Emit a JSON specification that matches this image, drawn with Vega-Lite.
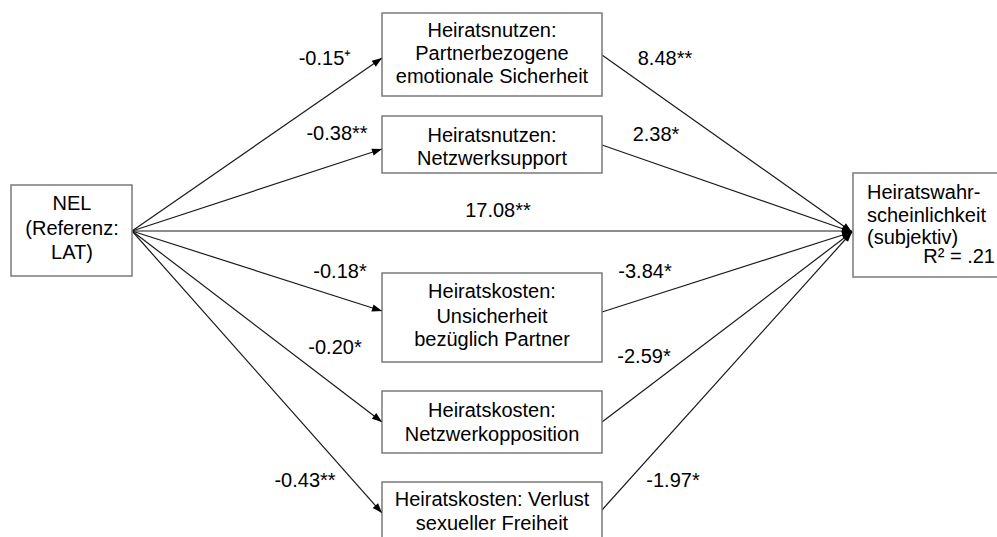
{
  "$schema": "https://vega.github.io/schema/vega-lite/v6.json",
  "autosize": {"type": "fit", "contains": "padding"},
  "width": 997,
  "height": 537,
  "padding": 0,
  "background": "white",
  "config": {"view": {"stroke": null}, "text": {"font": "Liberation Sans", "fontSize": 20, "color": "#000000"}},
  "datasets": {
    "boxes": [
      {"id": "NEL", "x1": 11, "x2": 132, "y1": 185, "y2": 276},
      {"id": "B1", "x1": 382, "x2": 602, "y1": 13, "y2": 96},
      {"id": "B2", "x1": 382, "x2": 602, "y1": 116, "y2": 173},
      {"id": "B3", "x1": 382, "x2": 602, "y1": 273, "y2": 362},
      {"id": "B4", "x1": 382, "x2": 602, "y1": 391, "y2": 453},
      {"id": "B5", "x1": 382, "x2": 602, "y1": 482, "y2": 545},
      {"id": "T", "x1": 853, "x2": 1005, "y1": 173, "y2": 277}
    ],
    "edges": [
      {"from": "NEL", "to": "B1", "x1": 132, "y1": 231, "x2": 382, "y2": 58},
      {"from": "NEL", "to": "B2", "x1": 132, "y1": 231, "x2": 382, "y2": 149},
      {"from": "NEL", "to": "T", "x1": 132, "y1": 231, "x2": 852, "y2": 231},
      {"from": "NEL", "to": "B3", "x1": 132, "y1": 231, "x2": 382, "y2": 311},
      {"from": "NEL", "to": "B4", "x1": 132, "y1": 231, "x2": 382, "y2": 422},
      {"from": "NEL", "to": "B5", "x1": 132, "y1": 231, "x2": 382, "y2": 513},
      {"from": "B1", "to": "T", "x1": 602, "y1": 55, "x2": 852, "y2": 232},
      {"from": "B2", "to": "T", "x1": 602, "y1": 145, "x2": 852, "y2": 232},
      {"from": "B3", "to": "T", "x1": 602, "y1": 312, "x2": 852, "y2": 232},
      {"from": "B4", "to": "T", "x1": 602, "y1": 422, "x2": 852, "y2": 232},
      {"from": "B5", "to": "T", "x1": 602, "y1": 510, "x2": 852, "y2": 232}
    ],
    "boxtext": [
      {"x": 72, "y": 210, "t": "NEL"},
      {"x": 72, "y": 235, "t": "(Referenz:"},
      {"x": 72, "y": 259, "t": "LAT)"},
      {"x": 492, "y": 37, "t": "Heiratsnutzen:"},
      {"x": 492, "y": 60, "t": "Partnerbezogene"},
      {"x": 492, "y": 83, "t": "emotionale Sicherheit"},
      {"x": 492, "y": 142, "t": "Heiratsnutzen:"},
      {"x": 492, "y": 165, "t": "Netzwerksupport"},
      {"x": 492, "y": 298, "t": "Heiratskosten:"},
      {"x": 492, "y": 323, "t": "Unsicherheit"},
      {"x": 492, "y": 346, "t": "bezüglich Partner"},
      {"x": 492, "y": 417, "t": "Heiratskosten:"},
      {"x": 492, "y": 441, "t": "Netzwerkopposition"},
      {"x": 492, "y": 506, "t": "Heiratskosten: Verlust"},
      {"x": 492, "y": 530, "t": "sexueller Freiheit"}
    ],
    "targettext": [
      {"x": 867, "y": 199, "t": "Heiratswahr-"},
      {"x": 867, "y": 222, "t": "scheinlichkeit"},
      {"x": 867, "y": 244, "t": "(subjektiv)"}
    ],
    "r2": [
      {"x": 995, "y": 263, "t": "R² = .21"}
    ],
    "labels": [
      {"x": 325, "y": 65, "t": "-0.15⁺"},
      {"x": 337, "y": 140, "t": "-0.38**"},
      {"x": 498, "y": 217, "t": "17.08**"},
      {"x": 340, "y": 278, "t": "-0.18*"},
      {"x": 335, "y": 354, "t": "-0.20*"},
      {"x": 305, "y": 487, "t": "-0.43**"},
      {"x": 665, "y": 65, "t": "8.48**"},
      {"x": 656, "y": 141, "t": "2.38*"},
      {"x": 645, "y": 278, "t": "-3.84*"},
      {"x": 644, "y": 363, "t": "-2.59*"},
      {"x": 673, "y": 487, "t": "-1.97*"}
    ]
  },
  "layer": [
    {
      "data": {"name": "edges"},
      "mark": {"type": "rule", "color": "#1a1a1a", "strokeWidth": 1.2},
      "encoding": {
        "x": {"field": "x1", "type": "quantitative", "scale": {"domain": [0, 997], "nice": false, "zero": false}, "axis": null},
        "y": {"field": "y1", "type": "quantitative", "scale": {"domain": [0, 537], "nice": false, "zero": false, "reverse": true}, "axis": null},
        "x2": {"field": "x2"},
        "y2": {"field": "y2"}
      }
    },
    {
      "data": {"name": "boxes"},
      "mark": {"type": "rect", "fill": "white", "stroke": "#7a7a7a", "strokeWidth": 1.5, "clip": true},
      "encoding": {
        "x": {"field": "x1", "type": "quantitative"},
        "x2": {"field": "x2"},
        "y": {"field": "y1", "type": "quantitative"},
        "y2": {"field": "y2"}
      }
    },
    {
      "data": {"name": "edges"},
      "transform": [
        {"calculate": "atan2(datum.x2 - datum.x1, datum.y1 - datum.y2) * 180 / PI", "as": "ang"}
      ],
      "mark": {"type": "point", "shape": "M0,0L-0.36,1L0.36,1Z", "filled": true, "color": "#000000", "size": 400, "opacity": 1, "strokeWidth": 0},
      "encoding": {
        "x": {"field": "x2", "type": "quantitative"},
        "y": {"field": "y2", "type": "quantitative"},
        "angle": {"field": "ang", "type": "quantitative", "scale": null}
      }
    },
    {
      "data": {"name": "boxtext"},
      "mark": {"type": "text", "align": "center", "baseline": "alphabetic"},
      "encoding": {
        "x": {"field": "x", "type": "quantitative"},
        "y": {"field": "y", "type": "quantitative"},
        "text": {"field": "t"}
      }
    },
    {
      "data": {"name": "targettext"},
      "mark": {"type": "text", "align": "left", "baseline": "alphabetic"},
      "encoding": {
        "x": {"field": "x", "type": "quantitative"},
        "y": {"field": "y", "type": "quantitative"},
        "text": {"field": "t"}
      }
    },
    {
      "data": {"name": "r2"},
      "mark": {"type": "text", "align": "right", "baseline": "alphabetic"},
      "encoding": {
        "x": {"field": "x", "type": "quantitative"},
        "y": {"field": "y", "type": "quantitative"},
        "text": {"field": "t"}
      }
    },
    {
      "data": {"name": "labels"},
      "mark": {"type": "text", "align": "center", "baseline": "alphabetic"},
      "encoding": {
        "x": {"field": "x", "type": "quantitative"},
        "y": {"field": "y", "type": "quantitative"},
        "text": {"field": "t"}
      }
    }
  ]
}
